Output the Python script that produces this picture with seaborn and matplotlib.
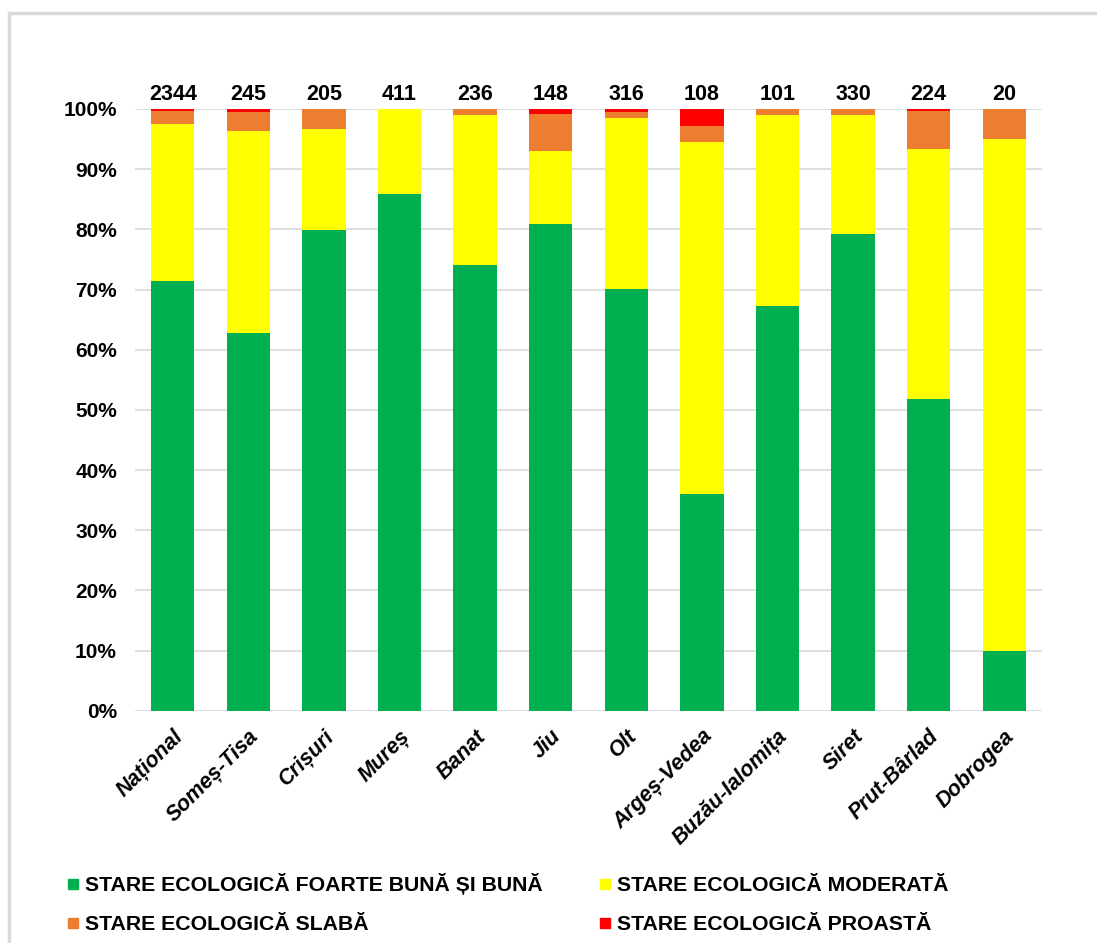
import matplotlib
matplotlib.use("Agg")
import matplotlib.pyplot as plt
import seaborn as sns
import numpy as np
import pandas as pd
from matplotlib.lines import Line2D
from matplotlib.patches import Rectangle

categories = ["Național", "Someș-Tisa", "Crișuri", "Mureș", "Banat", "Jiu", "Olt",
              "Argeș-Vedea", "Buzău-Ialomița", "Siret", "Prut-Bârlad", "Dobrogea"]
counts = [2344, 245, 205, 411, 236, 148, 316, 108, 101, 330, 224, 20]
green = [71.4, 62.8, 79.9, 85.9, 74.1, 80.9, 70.1, 36.0, 67.3, 79.2, 51.8, 10.0]
yellow = [26.1, 33.5, 16.7, 14.1, 24.95, 12.2, 28.4, 58.5, 31.7, 19.8, 41.6, 85.0]
orange = [2.1, 3.2, 3.4, 0.0, 0.95, 6.1, 1.05, 2.6, 1.0, 1.0, 6.2, 5.0]
red = [0.4, 0.5, 0.0, 0.0, 0.0, 0.8, 0.45, 2.9, 0.0, 0.0, 0.4, 0.0]
series_names = ["STARE ECOLOGICĂ FOARTE BUNĂ ȘI BUNĂ", "STARE ECOLOGICĂ MODERATĂ",
                "STARE ECOLOGICĂ SLABĂ", "STARE ECOLOGICĂ PROASTĂ"]
colors = ["#00B050", "#FFFF00", "#ED7D31", "#FF0000"]

sns.set_theme(style="white")
plt.rcParams['font.family'] = ['Liberation Sans', 'DejaVu Sans']
plt.rcParams['text.color'] = 'black'
plt.rcParams['xtick.color'] = 'black'
plt.rcParams['ytick.color'] = 'black'

fig = plt.figure(figsize=(10.97, 9.43), dpi=100)
ax = fig.add_axes([135/1097, 1-710.7/943, (1042-135)/1097, (710.7-109)/943])

# outer border
fig.patches.append(Rectangle((9/1097, -0.05), 1.1, 1 - 13/943 + 0.05,
                             transform=fig.transFigure, fill=False,
                             edgecolor="#D9D9D9", linewidth=2.5))

layers = [green, yellow, orange, red]
cum = np.cumsum(np.array(layers), axis=0)
for k in range(3, -1, -1):
    d = pd.DataFrame({"cat": categories, "val": cum[k]})
    sns.barplot(data=d, x="cat", y="val", order=categories, color=colors[k],
                saturation=1, width=0.573, linewidth=0, ax=ax, zorder=3)

ax.set_ylim(0, 100)
ax.set_xlim(-0.5, len(categories) - 0.5)
ax.set_yticks(np.arange(0, 101, 10))
ax.set_yticklabels([f"{v}%" for v in range(0, 101, 10)], fontsize=15, fontweight="bold",
                   color="black")
ax.yaxis.grid(True, color="#D9D9D9", linewidth=1.2, zorder=0)
ax.set_axisbelow(True)
for s in ax.spines.values():
    s.set_visible(False)
ax.tick_params(axis="both", length=0)
ax.tick_params(axis="y", pad=13)
ax.set_xlabel("")
ax.set_ylabel("")
ax.set_xticks(range(len(categories)))
ax.set_xticklabels(categories, rotation=45, ha="right", va="top", color="black",
                   rotation_mode="anchor", fontsize=15.5, fontweight="bold", style="italic")
ax.tick_params(axis="x", pad=11)

for i, c in enumerate(counts):
    ax.annotate(str(c), (i, 100), xytext=(0, 3), textcoords="offset points",
                ha="center", va="bottom", fontsize=15.5, fontweight="bold", color="black")

order = [0, 2, 1, 3]
handles = [Line2D([0], [0], marker="s", linestyle="", markersize=7,
                  markerfacecolor=colors[j], markeredgecolor=colors[j]) for j in order]
labels = [series_names[j] for j in order]
leg = fig.legend(handles, labels, loc="upper left", bbox_to_anchor=(47/1097, 1-854/943),
                 ncol=2, frameon=False, prop={"weight": "bold", "size": 15.3},
                 handlelength=0.6, handletextpad=0.3, columnspacing=2.6, labelspacing=0.95)
for t in leg.get_texts():
    t.set_color("black")

fig.savefig("out.png", dpi=100, facecolor="white")
